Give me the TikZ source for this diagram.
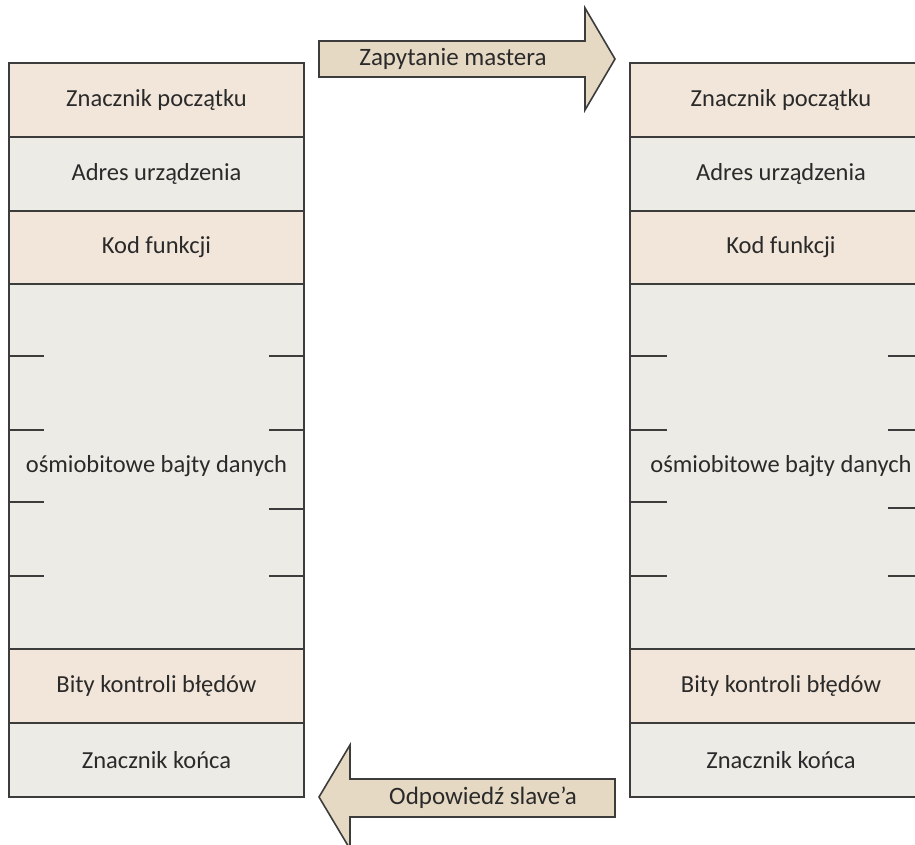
\documentclass[tikz,border=0pt]{standalone}
\usepackage{fontspec}
\setmainfont{Carlito}
\definecolor{peach}{HTML}{F2E6DA}
\definecolor{pale}{HTML}{ECEBE6}
\definecolor{tan}{HTML}{E6D9C3}
\definecolor{edge}{HTML}{3C3C3C}
\definecolor{ink}{HTML}{2A2A2A}
\begin{document}
\begin{tikzpicture}[x=1pt,y=-1pt,
  field/.style={draw=edge,line width=1.6pt,minimum width=295pt,inner sep=0pt,
    font=\fontsize{24.5}{28}\selectfont,text=ink},
  warm/.style={field,fill=peach},
  cool/.style={field,fill=pale},
  flag/.style={draw=edge,line width=1.6pt,fill=tan,line join=miter},
  flagtext/.style={font=\fontsize{25}{28}\selectfont,text=ink,inner sep=0pt},
  tick/.style={draw=edge,line width=1.4pt}]
\useasboundingbox (0,0) rectangle (915,845);

% master frame
\begin{scope}[shift={(156.5,0)}]
  \node[warm,minimum height=74pt] (m1) at (0,100) {Znacznik początku};
  \node[cool,minimum height=74pt] (m2) at (0,174) {Adres urządzenia};
  \node[warm,minimum height=73pt] (m3) at (0,247.5) {Kod funkcji};
  \node[cool,minimum height=365pt] (m4) at (0,466.5) {ośmiobitowe bajty danych};
  \node[warm,minimum height=74pt] (m5) at (0,686) {Bity kontroli błędów};
  \node[cool,minimum height=74pt] (m6) at (0,760) {Znacznik końca};
\end{scope}
\foreach \y in {356,430,502,576} \draw[tick] (m4.west |- 0,\y) -- ++(36,0);
\foreach \y in {356,430,509,576} \draw[tick] (m4.east |- 0,\y) -- ++(-36,0);

% slave frame
\begin{scope}[shift={(781,0)}]
  \node[warm,minimum width=302pt,minimum height=74pt] (s1) at (0,100) {Znacznik początku};
  \node[cool,minimum width=302pt,minimum height=74pt] (s2) at (0,174) {Adres urządzenia};
  \node[warm,minimum width=302pt,minimum height=73pt] (s3) at (0,247.5) {Kod funkcji};
  \node[cool,minimum width=302pt,minimum height=365pt] (s4) at (0,466.5) {ośmiobitowe bajty danych};
  \node[warm,minimum width=302pt,minimum height=74pt] (s5) at (0,686) {Bity kontroli błędów};
  \node[cool,minimum width=302pt,minimum height=74pt] (s6) at (0,760) {Znacznik końca};
\end{scope}
\foreach \y in {356,430,502,576} \draw[tick] (s4.west |- 0,\y) -- ++(38,0);
\foreach \y in {356,430,508,576} \draw[tick] (888,\y) -- (s4.east |- 0,\y);

% request arrow
\draw[flag] (319,41) -- (585,41) -- (585,8) -- (615,59) -- (585,110)
  -- (585,77) -- (319,77) -- cycle;
\node[flagtext] (req) at (453,59) {Zapytanie mastera};

% response arrow
\draw[flag] (319,797) -- (350,745) -- (350,779) -- (615,779) -- (615,817)
  -- (350,817) -- (350,849) -- cycle;
\node[flagtext] (resp) at (483,798) {Odpowiedź slave’a};
\end{tikzpicture}
\end{document}
